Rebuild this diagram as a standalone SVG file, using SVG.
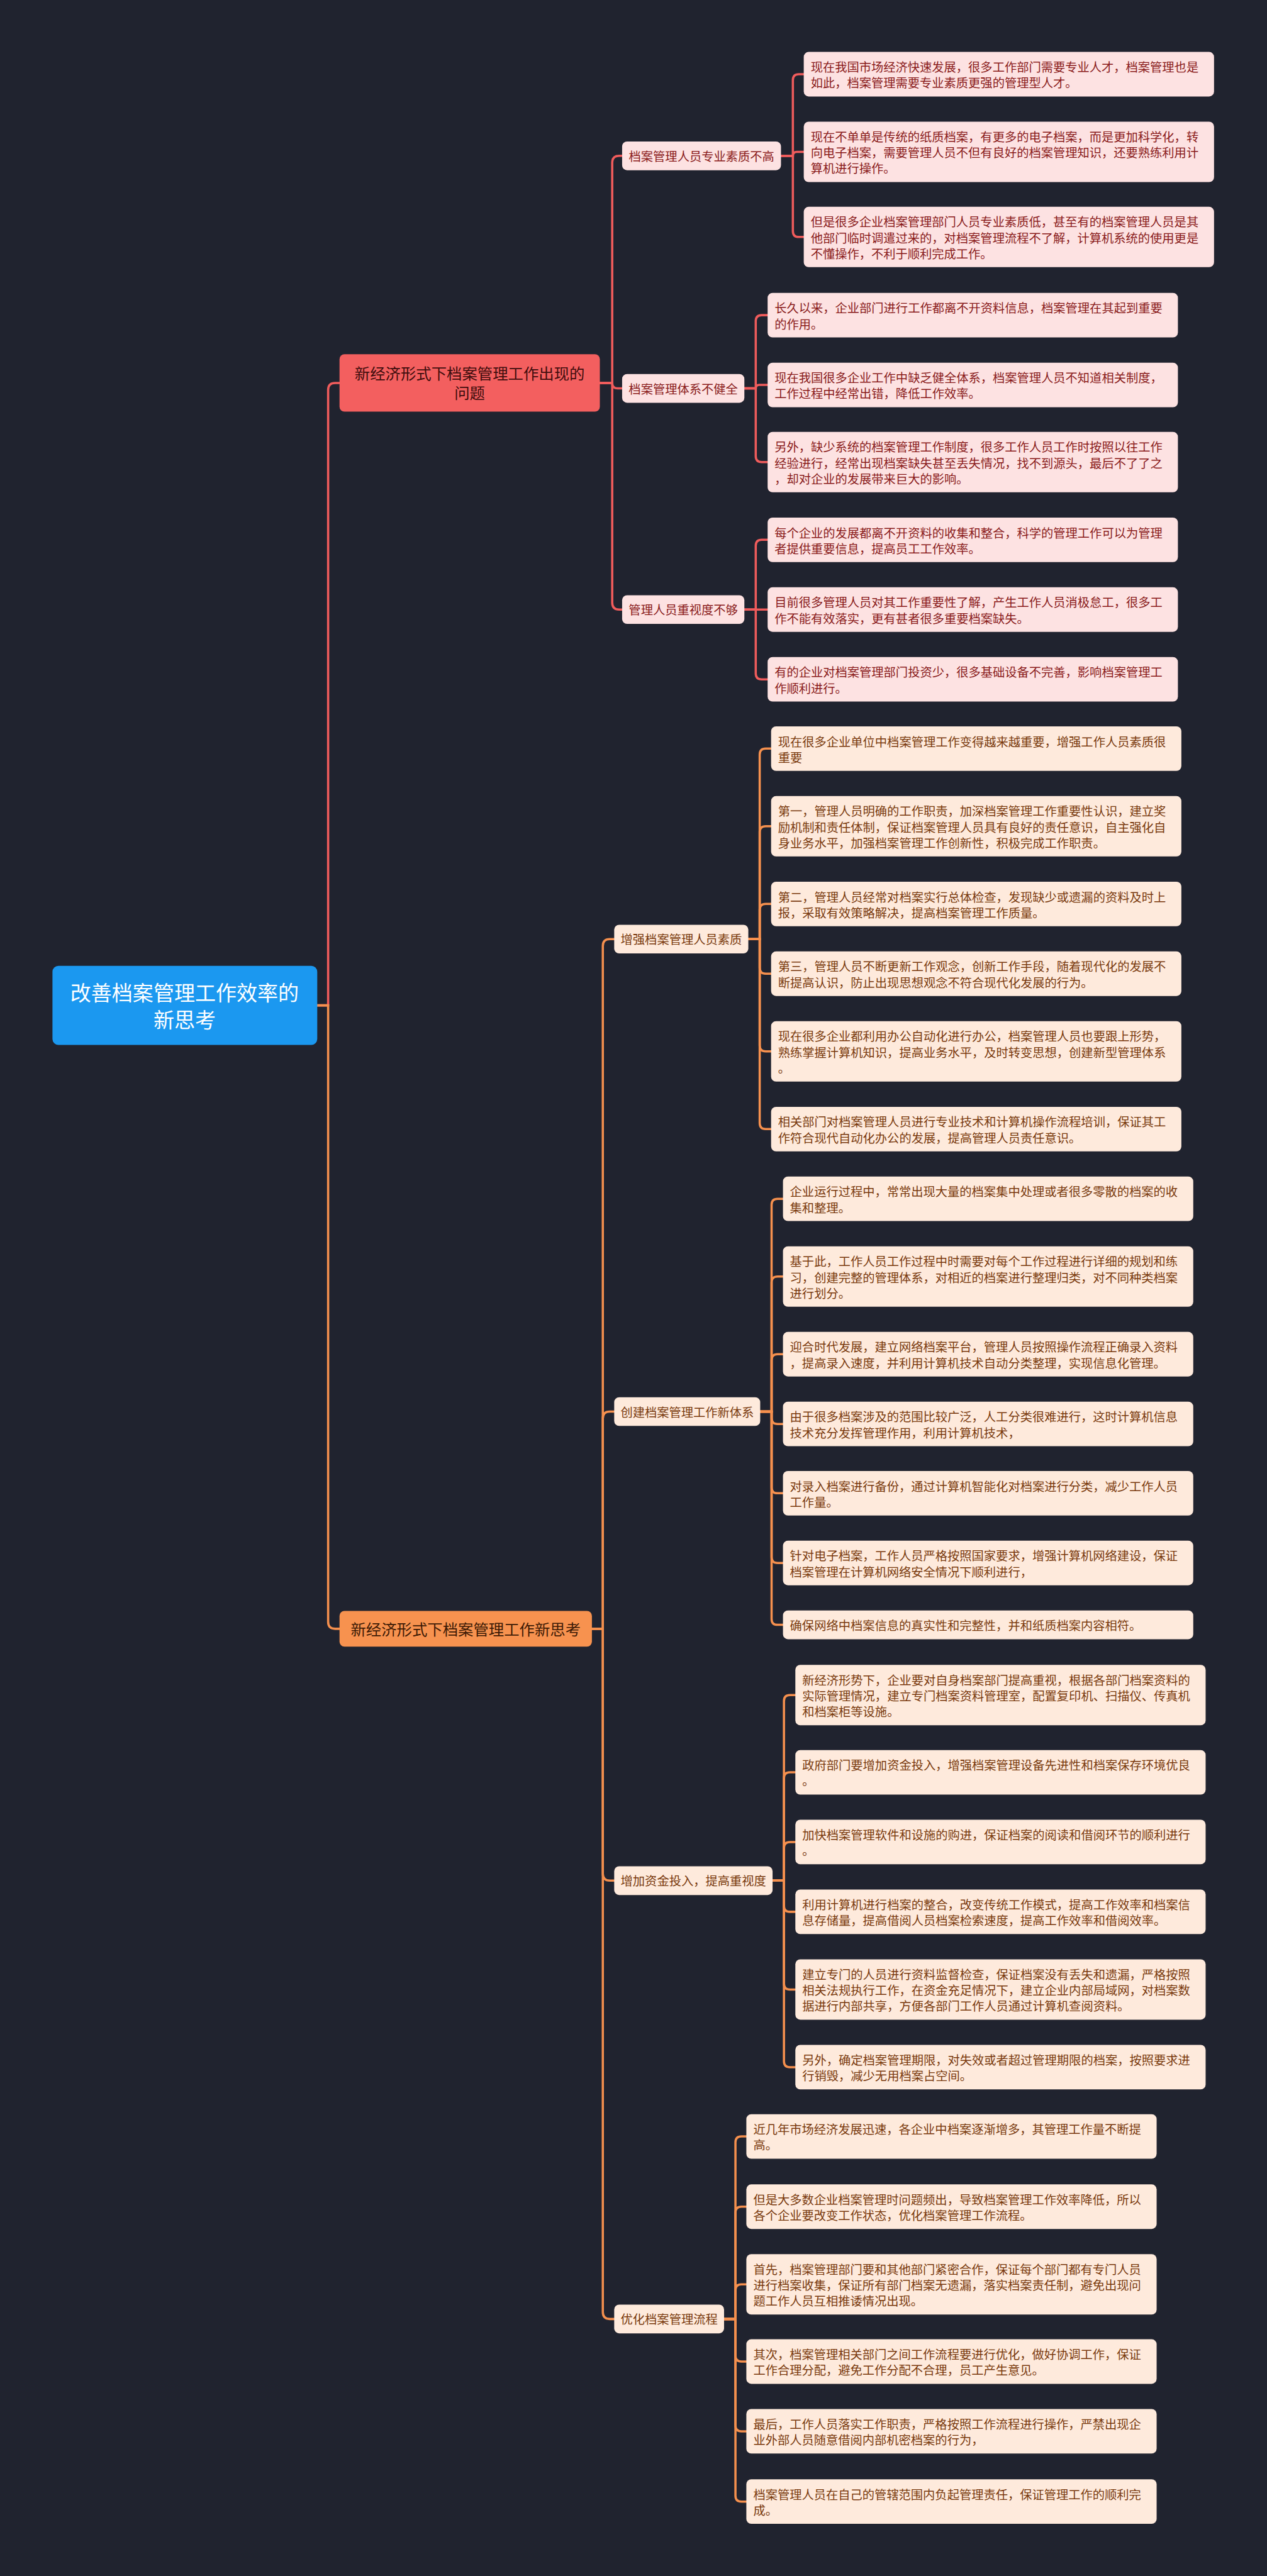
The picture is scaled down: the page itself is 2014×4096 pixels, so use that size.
<svg xmlns="http://www.w3.org/2000/svg" width="2014" height="4096" viewBox="0 0 2014 4096">
<style>
text{font-family:"Noto Sans CJK SC","Noto Sans",sans-serif;dominant-baseline:central}
.lr{fill:#fde2e2}
.lo{fill:#feeadc}
.tr{fill:#8a1b1b;font-size:24.5px}
.to{fill:#7a3a0e;font-size:24.5px}
.c{fill:none;stroke-width:4.5;stroke-linecap:round}
.cr{stroke:#f05c5c}
.co{stroke:#f5904e}
.m{text-anchor:middle}
</style>
<rect width="2014" height="4096" fill="#20232f"/>
<g transform="scale(0.78672)">
<g id="connectors">
<path class="c cr" d="M641 2032 H663 V788 Q663 774 677 774 H686"/>
<path class="c co" d="M641 2032 H663 V3278 Q663 3292 677 3292 H686"/>
<path class="c cr" d="M1212 774 H1237 V329 Q1237 315 1251 315 H1257"/>
<path class="c cr" d="M1212 774 H1237 Q1237 785 1248 785 H1257"/>
<path class="c cr" d="M1212 774 H1237 V1218 Q1237 1232 1251 1232 H1257"/>
<path class="c co" d="M1196 3292 H1218 V1912 Q1218 1898 1232 1898 H1241"/>
<path class="c co" d="M1196 3292 H1218 V2867 Q1218 2853 1232 2853 H1241"/>
<path class="c co" d="M1196 3292 H1218 V3787 Q1218 3801 1232 3801 H1241"/>
<path class="c co" d="M1196 3292 H1218 V4673 Q1218 4687 1232 4687 H1241"/>
<path class="c cr" d="M1578 315 H1602 V162 Q1602 150 1614 150 H1624"/>
<path class="c cr" d="M1578 315 H1602 Q1602 307 1610 307 H1624"/>
<path class="c cr" d="M1578 315 H1602 V467 Q1602 479 1614 479 H1624"/>
<path class="c cr" d="M1504 785 H1527 V649 Q1527 637 1539 637 H1551"/>
<path class="c cr" d="M1504 785 H1527 Q1527 778 1534 778 H1551"/>
<path class="c cr" d="M1504 785 H1527 V922 Q1527 934 1539 934 H1551"/>
<path class="c cr" d="M1504 1232 H1527 V1103 Q1527 1091 1539 1091 H1551"/>
<path class="c cr" d="M1504 1232 H1551"/>
<path class="c cr" d="M1504 1232 H1527 V1361 Q1527 1373 1539 1373 H1551"/>
<path class="c co" d="M1512 1898 H1535 V1525 Q1535 1513 1547 1513 H1558"/>
<path class="c co" d="M1512 1898 H1535 V1682 Q1535 1670 1547 1670 H1558"/>
<path class="c co" d="M1512 1898 H1535 V1839 Q1535 1827 1547 1827 H1558"/>
<path class="c co" d="M1512 1898 H1535 V1956 Q1535 1968 1547 1968 H1558"/>
<path class="c co" d="M1512 1898 H1535 V2113 Q1535 2125 1547 2125 H1558"/>
<path class="c co" d="M1512 1898 H1535 V2270 Q1535 2282 1547 2282 H1558"/>
<path class="c co" d="M1536 2853 H1559 V2435 Q1559 2423 1571 2423 H1582"/>
<path class="c co" d="M1536 2853 H1559 V2592 Q1559 2580 1571 2580 H1582"/>
<path class="c co" d="M1536 2853 H1559 V2749 Q1559 2737 1571 2737 H1582"/>
<path class="c co" d="M1536 2853 H1559 V2866 Q1559 2878 1571 2878 H1582"/>
<path class="c co" d="M1536 2853 H1559 V3006 Q1559 3018 1571 3018 H1582"/>
<path class="c co" d="M1536 2853 H1559 V3147 Q1559 3159 1571 3159 H1582"/>
<path class="c co" d="M1536 2853 H1559 V3272 Q1559 3284 1571 3284 H1582"/>
<path class="c co" d="M1561 3801 H1584 V3438 Q1584 3426 1596 3426 H1607"/>
<path class="c co" d="M1561 3801 H1584 V3594 Q1584 3582 1596 3582 H1607"/>
<path class="c co" d="M1561 3801 H1584 V3735 Q1584 3723 1596 3723 H1607"/>
<path class="c co" d="M1561 3801 H1584 V3852 Q1584 3864 1596 3864 H1607"/>
<path class="c co" d="M1561 3801 H1584 V4009 Q1584 4021 1596 4021 H1607"/>
<path class="c co" d="M1561 3801 H1584 V4166 Q1584 4178 1596 4178 H1607"/>
<path class="c co" d="M1463 4687 H1486 V4330 Q1486 4318 1498 4318 H1508"/>
<path class="c co" d="M1463 4687 H1486 V4472 Q1486 4460 1498 4460 H1508"/>
<path class="c co" d="M1463 4687 H1486 V4629 Q1486 4617 1498 4617 H1508"/>
<path class="c co" d="M1463 4687 H1486 V4761 Q1486 4773 1498 4773 H1508"/>
<path class="c co" d="M1463 4687 H1486 V4902 Q1486 4914 1498 4914 H1508"/>
<path class="c co" d="M1463 4687 H1486 V5044 Q1486 5056 1498 5056 H1508"/>
</g>

<g id="root">
<rect x="106" y="1952" width="535" height="160" rx="12" fill="#1b98f0"/>
<text class="m" x="373" y="2004" fill="#ffffff" font-size="42">改善档案管理工作效率的</text>
<text class="m" x="373" y="2059" fill="#ffffff" font-size="42">新思考</text>
</g>

<g id="b1">
<rect x="686" y="716" width="526" height="116" rx="10" fill="#f35f5f"/>
<text class="m" x="949" y="753" fill="#3f0d0d" font-size="31">新经济形式下档案管理工作出现的</text>
<text class="m" x="949" y="793" fill="#3f0d0d" font-size="31">问题</text>
</g>
<g id="b2">
<rect x="686" y="3256" width="510" height="72" rx="10" fill="#f7924f"/>
<text class="m" x="941" y="3292" fill="#3d1a05" font-size="31">新经济形式下档案管理工作新思考</text>
</g>

<g id="g1">
<rect class="lr" x="1257" y="286" width="321" height="58" rx="10"/>
<text class="tr m" x="1417.5" y="315">档案管理人员专业素质不高</text>
</g>
<g id="g1-1"><rect class="lr" x="1624" y="105" width="829" height="90" rx="10"/>
<text class="tr" x="1638" y="135">现在我国市场经济快速发展，很多工作部门需要专业人才，档案管理也是</text>
<text class="tr" x="1638" y="167">如此，档案管理需要专业素质更强的管理型人才。</text></g>
<g id="g1-2"><rect class="lr" x="1624" y="246" width="829" height="122" rx="10"/>
<text class="tr" x="1638" y="276">现在不单单是传统的纸质档案，有更多的电子档案，而是更加科学化，转</text>
<text class="tr" x="1638" y="308">向电子档案，需要管理人员不但有良好的档案管理知识，还要熟练利用计</text>
<text class="tr" x="1638" y="340">算机进行操作。</text></g>
<g id="g1-3"><rect class="lr" x="1624" y="418" width="829" height="122" rx="10"/>
<text class="tr" x="1638" y="448">但是很多企业档案管理部门人员专业素质低，甚至有的档案管理人员是其</text>
<text class="tr" x="1638" y="480">他部门临时调遣过来的，对档案管理流程不了解，计算机系统的使用更是</text>
<text class="tr" x="1638" y="512">不懂操作，不利于顺利完成工作。</text></g>

<g id="g2">
<rect class="lr" x="1257" y="756" width="247" height="58" rx="10"/>
<text class="tr m" x="1380.5" y="785">档案管理体系不健全</text>
</g>
<g id="g2-1"><rect class="lr" x="1551" y="592" width="829" height="90" rx="10"/>
<text class="tr" x="1565" y="622">长久以来，企业部门进行工作都离不开资料信息，档案管理在其起到重要</text>
<text class="tr" x="1565" y="654">的作用。</text></g>
<g id="g2-2"><rect class="lr" x="1551" y="733" width="829" height="90" rx="10"/>
<text class="tr" x="1565" y="763">现在我国很多企业工作中缺乏健全体系，档案管理人员不知道相关制度，</text>
<text class="tr" x="1565" y="795">工作过程中经常出错，降低工作效率。</text></g>
<g id="g2-3"><rect class="lr" x="1551" y="873" width="829" height="122" rx="10"/>
<text class="tr" x="1565" y="903">另外，缺少系统的档案管理工作制度，很多工作人员工作时按照以往工作</text>
<text class="tr" x="1565" y="935">经验进行，经常出现档案缺失甚至丢失情况，找不到源头，最后不了了之</text>
<text class="tr" x="1565" y="967">，却对企业的发展带来巨大的影响。</text></g>

<g id="g3">
<rect class="lr" x="1257" y="1203" width="247" height="58" rx="10"/>
<text class="tr m" x="1380.5" y="1232">管理人员重视度不够</text>
</g>
<g id="g3-1"><rect class="lr" x="1551" y="1046" width="829" height="90" rx="10"/>
<text class="tr" x="1565" y="1076">每个企业的发展都离不开资料的收集和整合，科学的管理工作可以为管理</text>
<text class="tr" x="1565" y="1108">者提供重要信息，提高员工工作效率。</text></g>
<g id="g3-2"><rect class="lr" x="1551" y="1187" width="829" height="90" rx="10"/>
<text class="tr" x="1565" y="1217">目前很多管理人员对其工作重要性了解，产生工作人员消极怠工，很多工</text>
<text class="tr" x="1565" y="1249">作不能有效落实，更有甚者很多重要档案缺失。</text></g>
<g id="g3-3"><rect class="lr" x="1551" y="1328" width="829" height="90" rx="10"/>
<text class="tr" x="1565" y="1358">有的企业对档案管理部门投资少，很多基础设备不完善，影响档案管理工</text>
<text class="tr" x="1565" y="1390">作顺利进行。</text></g>

<g id="g4">
<rect class="lo" x="1241" y="1869" width="271" height="58" rx="10"/>
<text class="to m" x="1376.5" y="1898">增强档案管理人员素质</text>
</g>
<g id="g4-1"><rect class="lo" x="1558" y="1468" width="829" height="90" rx="10"/>
<text class="to" x="1572" y="1498">现在很多企业单位中档案管理工作变得越来越重要，增强工作人员素质很</text>
<text class="to" x="1572" y="1530">重要</text></g>
<g id="g4-2"><rect class="lo" x="1558" y="1609" width="829" height="122" rx="10"/>
<text class="to" x="1572" y="1639">第一，管理人员明确的工作职责，加深档案管理工作重要性认识，建立奖</text>
<text class="to" x="1572" y="1671">励机制和责任体制，保证档案管理人员具有良好的责任意识，自主强化自</text>
<text class="to" x="1572" y="1703">身业务水平，加强档案管理工作创新性，积极完成工作职责。</text></g>
<g id="g4-3"><rect class="lo" x="1558" y="1782" width="829" height="90" rx="10"/>
<text class="to" x="1572" y="1812">第二，管理人员经常对档案实行总体检查，发现缺少或遗漏的资料及时上</text>
<text class="to" x="1572" y="1844">报，采取有效策略解决，提高档案管理工作质量。</text></g>
<g id="g4-4"><rect class="lo" x="1558" y="1923" width="829" height="90" rx="10"/>
<text class="to" x="1572" y="1953">第三，管理人员不断更新工作观念，创新工作手段，随着现代化的发展不</text>
<text class="to" x="1572" y="1985">断提高认识，防止出现思想观念不符合现代化发展的行为。</text></g>
<g id="g4-5"><rect class="lo" x="1558" y="2064" width="829" height="122" rx="10"/>
<text class="to" x="1572" y="2094">现在很多企业都利用办公自动化进行办公，档案管理人员也要跟上形势，</text>
<text class="to" x="1572" y="2126">熟练掌握计算机知识，提高业务水平，及时转变思想，创建新型管理体系</text>
<text class="to" x="1572" y="2158">。</text></g>
<g id="g4-6"><rect class="lo" x="1558" y="2237" width="829" height="90" rx="10"/>
<text class="to" x="1572" y="2267">相关部门对档案管理人员进行专业技术和计算机操作流程培训，保证其工</text>
<text class="to" x="1572" y="2299">作符合现代自动化办公的发展，提高管理人员责任意识。</text></g>

<g id="g5">
<rect class="lo" x="1241" y="2824" width="295" height="58" rx="10"/>
<text class="to m" x="1388.5" y="2853">创建档案管理工作新体系</text>
</g>
<g id="g5-1"><rect class="lo" x="1582" y="2378" width="829" height="90" rx="10"/>
<text class="to" x="1596" y="2408">企业运行过程中，常常出现大量的档案集中处理或者很多零散的档案的收</text>
<text class="to" x="1596" y="2440">集和整理。</text></g>
<g id="g5-2"><rect class="lo" x="1582" y="2519" width="829" height="122" rx="10"/>
<text class="to" x="1596" y="2549">基于此，工作人员工作过程中时需要对每个工作过程进行详细的规划和练</text>
<text class="to" x="1596" y="2581">习，创建完整的管理体系，对相近的档案进行整理归类，对不同种类档案</text>
<text class="to" x="1596" y="2613">进行划分。</text></g>
<g id="g5-3"><rect class="lo" x="1582" y="2692" width="829" height="90" rx="10"/>
<text class="to" x="1596" y="2722">迎合时代发展，建立网络档案平台，管理人员按照操作流程正确录入资料</text>
<text class="to" x="1596" y="2754">，提高录入速度，并利用计算机技术自动分类整理，实现信息化管理。</text></g>
<g id="g5-4"><rect class="lo" x="1582" y="2833" width="829" height="90" rx="10"/>
<text class="to" x="1596" y="2863">由于很多档案涉及的范围比较广泛，人工分类很难进行，这时计算机信息</text>
<text class="to" x="1596" y="2895">技术充分发挥管理作用，利用计算机技术，</text></g>
<g id="g5-5"><rect class="lo" x="1582" y="2973" width="829" height="90" rx="10"/>
<text class="to" x="1596" y="3003">对录入档案进行备份，通过计算机智能化对档案进行分类，减少工作人员</text>
<text class="to" x="1596" y="3035">工作量。</text></g>
<g id="g5-6"><rect class="lo" x="1582" y="3114" width="829" height="90" rx="10"/>
<text class="to" x="1596" y="3144">针对电子档案，工作人员严格按照国家要求，增强计算机网络建设，保证</text>
<text class="to" x="1596" y="3176">档案管理在计算机网络安全情况下顺利进行，</text></g>
<g id="g5-7"><rect class="lo" x="1582" y="3255" width="829" height="58" rx="10"/>
<text class="to" x="1596" y="3285">确保网络中档案信息的真实性和完整性，并和纸质档案内容相符。</text></g>

<g id="g6">
<rect class="lo" x="1241" y="3772" width="320" height="58" rx="10"/>
<text class="to m" x="1401" y="3801">增加资金投入，提高重视度</text>
</g>
<g id="g6-1"><rect class="lo" x="1607" y="3365" width="829" height="122" rx="10"/>
<text class="to" x="1621" y="3395">新经济形势下，企业要对自身档案部门提高重视，根据各部门档案资料的</text>
<text class="to" x="1621" y="3427">实际管理情况，建立专门档案资料管理室，配置复印机、扫描仪、传真机</text>
<text class="to" x="1621" y="3459">和档案柜等设施。</text></g>
<g id="g6-2"><rect class="lo" x="1607" y="3537" width="829" height="90" rx="10"/>
<text class="to" x="1621" y="3567">政府部门要增加资金投入，增强档案管理设备先进性和档案保存环境优良</text>
<text class="to" x="1621" y="3599">。</text></g>
<g id="g6-3"><rect class="lo" x="1607" y="3678" width="829" height="90" rx="10"/>
<text class="to" x="1621" y="3708">加快档案管理软件和设施的购进，保证档案的阅读和借阅环节的顺利进行</text>
<text class="to" x="1621" y="3740">。</text></g>
<g id="g6-4"><rect class="lo" x="1607" y="3819" width="829" height="90" rx="10"/>
<text class="to" x="1621" y="3849">利用计算机进行档案的整合，改变传统工作模式，提高工作效率和档案信</text>
<text class="to" x="1621" y="3881">息存储量，提高借阅人员档案检索速度，提高工作效率和借阅效率。</text></g>
<g id="g6-5"><rect class="lo" x="1607" y="3960" width="829" height="122" rx="10"/>
<text class="to" x="1621" y="3990">建立专门的人员进行资料监督检查，保证档案没有丢失和遗漏，严格按照</text>
<text class="to" x="1621" y="4022">相关法规执行工作，在资金充足情况下，建立企业内部局域网，对档案数</text>
<text class="to" x="1621" y="4054">据进行内部共享，方便各部门工作人员通过计算机查阅资料。</text></g>
<g id="g6-6"><rect class="lo" x="1607" y="4133" width="829" height="90" rx="10"/>
<text class="to" x="1621" y="4163">另外，确定档案管理期限，对失效或者超过管理期限的档案，按照要求进</text>
<text class="to" x="1621" y="4195">行销毁，减少无用档案占空间。</text></g>

<g id="g7">
<rect class="lo" x="1241" y="4658" width="222" height="58" rx="10"/>
<text class="to m" x="1352" y="4687">优化档案管理流程</text>
</g>
<g id="g7-1"><rect class="lo" x="1508" y="4273" width="829" height="90" rx="10"/>
<text class="to" x="1522" y="4303">近几年市场经济发展迅速，各企业中档案逐渐增多，其管理工作量不断提</text>
<text class="to" x="1522" y="4335">高。</text></g>
<g id="g7-2"><rect class="lo" x="1508" y="4415" width="829" height="90" rx="10"/>
<text class="to" x="1522" y="4445">但是大多数企业档案管理时问题频出，导致档案管理工作效率降低，所以</text>
<text class="to" x="1522" y="4477">各个企业要改变工作状态，优化档案管理工作流程。</text></g>
<g id="g7-3"><rect class="lo" x="1508" y="4556" width="829" height="122" rx="10"/>
<text class="to" x="1522" y="4586">首先，档案管理部门要和其他部门紧密合作，保证每个部门都有专门人员</text>
<text class="to" x="1522" y="4618">进行档案收集，保证所有部门档案无遗漏，落实档案责任制，避免出现问</text>
<text class="to" x="1522" y="4650">题工作人员互相推诿情况出现。</text></g>
<g id="g7-4"><rect class="lo" x="1508" y="4728" width="829" height="90" rx="10"/>
<text class="to" x="1522" y="4758">其次，档案管理相关部门之间工作流程要进行优化，做好协调工作，保证</text>
<text class="to" x="1522" y="4790">工作合理分配，避免工作分配不合理，员工产生意见。</text></g>
<g id="g7-5"><rect class="lo" x="1508" y="4869" width="829" height="90" rx="10"/>
<text class="to" x="1522" y="4899">最后，工作人员落实工作职责，严格按照工作流程进行操作，严禁出现企</text>
<text class="to" x="1522" y="4931">业外部人员随意借阅内部机密档案的行为，</text></g>
<g id="g7-6"><rect class="lo" x="1508" y="5011" width="829" height="90" rx="10"/>
<text class="to" x="1522" y="5041">档案管理人员在自己的管辖范围内负起管理责任，保证管理工作的顺利完</text>
<text class="to" x="1522" y="5073">成。</text></g>
</g>
</svg>
